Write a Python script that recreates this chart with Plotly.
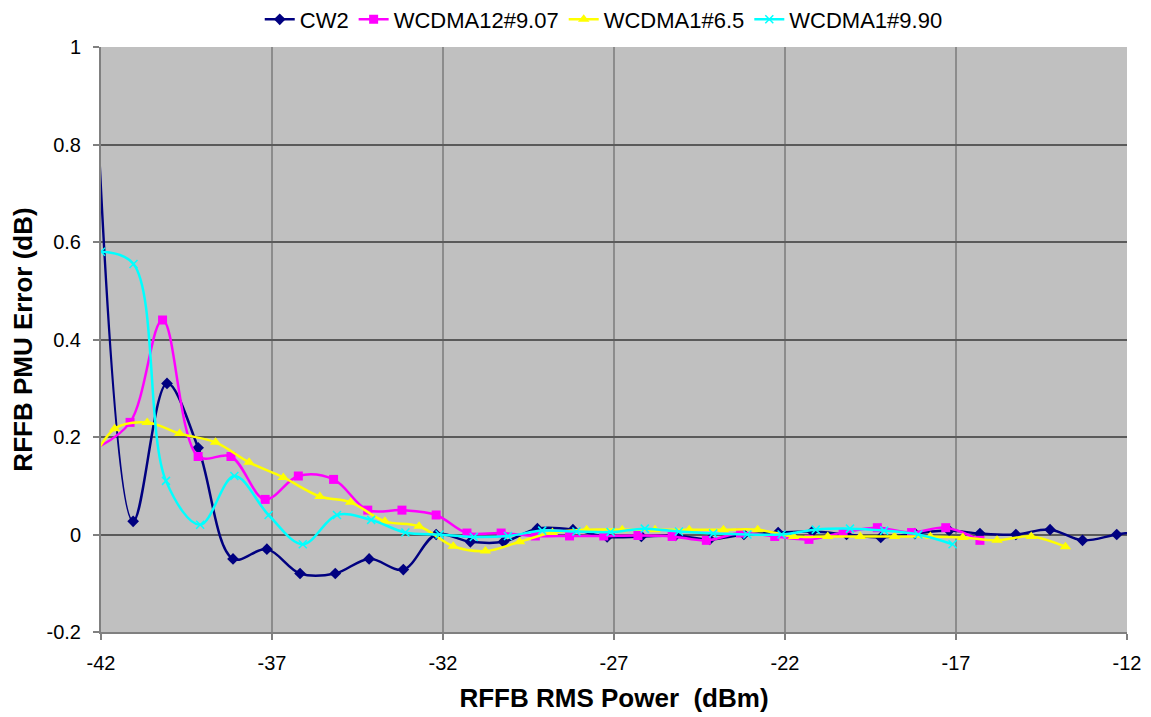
import plotly.graph_objects as go

# ---- data ----
cw2_x = [-42.2, -41.06, -40.07, -39.16, -38.14, -37.15, -36.18, -35.15, -34.16, -33.16,
         -32.2, -31.2, -30.23, -29.24, -28.2, -27.2, -26.2, -25.2, -24.2, -23.2,
         -22.2, -21.2, -20.2, -19.2, -18.2, -17.2, -16.3, -15.25, -14.25, -13.3,
         -12.3, -11.3]
cw2_y = [1.0, 0.027, 0.31, 0.178, -0.05, -0.03, -0.08, -0.08, -0.05, -0.072,
         0.0, -0.015, -0.015, 0.012, 0.01, -0.005, -0.004, -0.002, -0.01, 0.0,
         0.004, 0.006, 0.0, -0.006, 0.002, 0.008, 0.002, 0.0, 0.01, -0.012,
         0.0, 0.01]

m_x = [-42.2, -41.15, -40.2, -39.16, -38.2, -37.2, -36.23, -35.2, -34.2, -33.2,
       -32.2, -31.3, -30.3, -29.3, -28.3, -27.3, -26.3, -25.3, -24.3, -23.3,
       -22.3, -21.3, -20.3, -19.3, -18.3, -17.3, -16.3]
m_y = [0.175, 0.23, 0.44, 0.16, 0.16, 0.072, 0.12, 0.113, 0.05, 0.05,
       0.04, 0.003, 0.003, -0.003, -0.003, -0.003, -0.002, -0.004, -0.012, 0.003,
       -0.004, -0.01, 0.004, 0.014, 0.004, 0.014, -0.012]

y_x = [-42.6, -41.6, -40.65, -39.7, -38.65, -37.67, -36.67, -35.6, -34.7, -33.7,
       -32.7, -31.7, -30.76, -29.76, -28.8, -27.8, -26.76, -25.8, -24.8, -23.8,
       -22.8, -21.75, -20.75, -19.8, -18.8, -17.75, -16.8, -15.8, -14.8, -13.8]
y_y = [0.1, 0.217, 0.23, 0.207, 0.189, 0.148, 0.117, 0.078, 0.066, 0.027,
       0.017, -0.024, -0.034, -0.015, 0.004, 0.01, 0.01, 0.01, 0.01, 0.01,
       0.01, -0.004, -0.004, -0.004, -0.004, -0.004, -0.006, -0.012, -0.004, -0.025]

c_x = [-42.0, -41.05, -40.1, -39.1, -38.1, -37.1, -36.1, -35.1, -34.1, -33.1,
       -32.1, -31.1, -30.1, -29.1, -28.1, -27.1, -26.1, -25.1, -24.1, -23.1,
       -22.1, -21.1, -20.1, -19.1, -18.1, -17.1]
c_y = [0.58, 0.555, 0.11, 0.02, 0.12, 0.04, -0.02, 0.04, 0.03, 0.004,
       0.0, -0.005, -0.003, 0.008, 0.006, 0.005, 0.012, 0.006, 0.002, 0.0,
       0.0, 0.01, 0.012, 0.008, 0.0, -0.02]

names = ["CW2", "WCDMA12#9.07", "WCDMA1#6.5", "WCDMA1#9.90"]
colors = ["#000080", "#FF00FF", "#FFFF00", "#00FFFF"]
symbols = ["diamond", "square", "triangle-up", "x-thin-open"]
sizes = [9, 9, 10, 8]

x_ticks = [-42, -37, -32, -27, -22, -17, -12]
y_ticks = [-0.2, 0, 0.2, 0.4, 0.6, 0.8, 1]

FONT = "Liberation Sans, Arial, sans-serif"

fig = go.Figure()
series = [(cw2_x, cw2_y), (m_x, m_y), (y_x, y_y), (c_x, c_y)]
for (xs, ys), nm, col, sym, sz in zip(series, names, colors, symbols, sizes):
    marker = dict(symbol=sym, size=sz, color=col)
    if sym == "x-thin-open":
        marker["line"] = dict(color=col, width=1.5)
    fig.add_trace(go.Scatter(
        x=xs, y=ys, name=nm, mode="lines+markers",
        line=dict(color=col, width=2.5, shape="spline", smoothing=1.0),
        marker=marker,
    ))

fig.update_layout(
    width=1151, height=717,
    margin=dict(l=101, r=24, t=47, b=85, autoexpand=False),
    paper_bgcolor="white",
    plot_bgcolor="#C0C0C0",
    font=dict(family=FONT, size=20, color="black"),
    showlegend=True,
    legend=dict(orientation="h", x=0.49, xanchor="center", y=1.047, yanchor="middle",
                font=dict(size=22, color="black"), bgcolor="rgba(0,0,0,0)",
                itemwidth=30, tracegroupgap=0),
    hovermode=False,
)
fig.update_xaxes(
    range=[-42, -12], tickvals=x_ticks, ticktext=[str(v) for v in x_ticks],
    showgrid=True, gridcolor="#8C8C8C", gridwidth=1.5,
    showline=True, linecolor="#808080", linewidth=2,
    ticks="outside", ticklen=6, tickcolor="#808080", tickwidth=1.5,
    zeroline=False, ticklabelstandoff=6,
    title=dict(text="RFFB RMS Power  (dBm)", font=dict(size=26, weight="bold"), standoff=16),
)
fig.update_yaxes(
    range=[-0.2, 1], tickvals=y_ticks, ticktext=["-0.2", "0", "0.2", "0.4", "0.6", "0.8", "1"],
    showgrid=True, gridcolor="#5A5A5A", gridwidth=2,
    showline=True, linecolor="#808080", linewidth=2,
    ticks="outside", ticklen=6, tickcolor="#808080", tickwidth=1.5,
    zeroline=False, ticklabelstandoff=8,
    title=dict(text="RFFB PMU Error (dB)", font=dict(size=26, weight="bold"), standoff=6),
)

fig.write_html("out.html", config={"displayModeBar": False})
